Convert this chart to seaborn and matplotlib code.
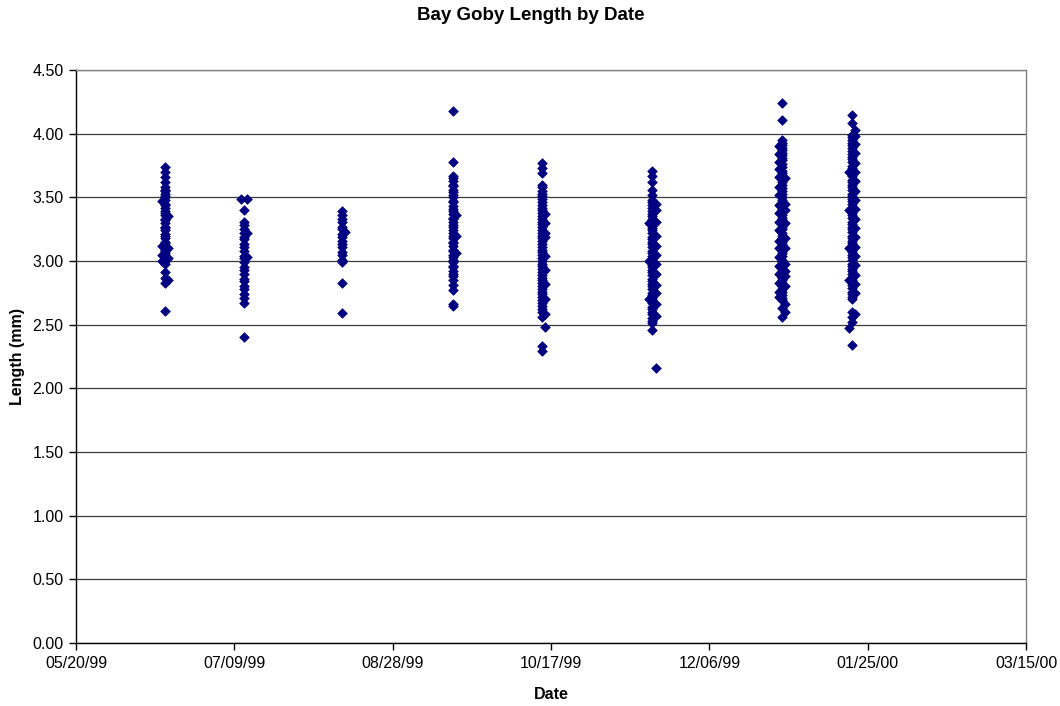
import matplotlib
matplotlib.use("Agg")
import matplotlib.pyplot as plt
import matplotlib.dates as mdates
import matplotlib.ticker as mticker
import numpy as np
import pandas as pd
import seaborn as sns

# ---- Data: sampling dates and fish lengths (mm) ----
d_0616 = [3.47, 3.12, 3.05, 3.00]
d_0617 = [3.74, 3.70, 3.66, 3.62, 3.58, 3.56, 3.55, 3.53, 3.51, 3.50, 3.48, 3.45,
          3.44, 3.42, 3.39, 3.38, 3.36, 3.33, 3.32, 3.30, 3.27, 3.26, 3.24, 3.21,
          3.20, 3.18, 3.15, 3.14, 3.12, 3.09, 3.08, 3.06, 3.03, 3.02, 3.00, 2.98,
          2.91, 2.87, 2.83, 2.61]
d_0618 = [3.35, 3.10, 3.02, 2.85]

d_0711 = [3.49]
d_0712 = [3.40, 3.31, 3.28, 3.25, 3.22, 3.19, 3.17, 3.13, 3.11, 3.08, 3.04, 3.02,
          2.99, 2.95, 2.93, 2.90, 2.86, 2.84, 2.80, 2.78, 2.74, 2.71, 2.67, 2.40]
d_0713 = [3.49, 3.22, 3.03]

d_0812 = [3.39, 3.36, 3.33, 3.31, 3.27, 3.25, 3.21, 3.19, 3.16, 3.13, 3.11, 3.07,
          3.05, 3.01, 2.99, 2.83, 2.59]
d_0813 = [3.23]

d_0916 = [4.18, 3.78, 3.67, 3.65, 3.63, 3.60, 3.59, 3.56, 3.54, 3.52, 3.50, 3.47,
          3.46, 3.43, 3.41, 3.39, 3.37, 3.34, 3.33, 3.31, 3.28, 3.27, 3.24, 3.22,
          3.20, 3.18, 3.15, 3.14, 3.12, 3.09, 3.08, 3.05, 3.03, 3.01, 2.99, 2.96,
          2.95, 2.92, 2.90, 2.88, 2.85, 2.81, 2.77, 2.66, 2.65]
d_0917 = [3.36, 3.20, 3.06]

d_1014 = [3.77, 3.73, 3.69, 3.60, 3.58, 3.55, 3.53, 3.51, 3.49, 3.46, 3.44, 3.42,
          3.40, 3.38, 3.35, 3.33, 3.31, 3.29, 3.27, 3.24, 3.22, 3.20, 3.18, 3.16,
          3.13, 3.11, 3.09, 3.07, 3.05, 3.02, 3.00, 2.98, 2.96, 2.94, 2.91, 2.89,
          2.87, 2.85, 2.83, 2.80, 2.78, 2.76, 2.74, 2.72, 2.69, 2.67, 2.65, 2.62,
          2.60, 2.56, 2.33, 2.29]
d_1015 = [3.37, 3.30, 3.22, 3.19, 3.04, 2.93, 2.82, 2.70, 2.58, 2.48]

d_1117 = [3.30, 3.00, 2.70]
d_1118 = [3.71, 3.67, 3.62, 3.56, 3.52, 3.48, 3.46, 3.44, 3.42, 3.39, 3.37, 3.35,
          3.33, 3.30, 3.28, 3.26, 3.24, 3.22, 3.19, 3.17, 3.15, 3.13, 3.11, 3.08,
          3.06, 3.04, 3.02, 3.00, 2.97, 2.95, 2.93, 2.91, 2.89, 2.86, 2.84, 2.82,
          2.80, 2.78, 2.75, 2.73, 2.71, 2.69, 2.67, 2.64, 2.62, 2.60, 2.58, 2.55,
          2.53, 2.51, 2.46]
d_1119 = [3.45, 3.40, 3.31, 3.20, 3.12, 3.05, 2.98, 2.90, 2.81, 2.75, 2.66, 2.57,
          2.16]

d_1228 = [3.90, 3.84, 3.78, 3.72, 3.66, 3.58, 3.52, 3.44, 3.38, 3.31, 3.24, 3.16,
          3.10, 3.03, 2.96, 2.90, 2.83, 2.76, 2.72]
d_1229 = [4.24, 4.11, 3.95, 3.93, 3.91, 3.89, 3.87, 3.85, 3.83, 3.81, 3.79, 3.76,
          3.74, 3.71, 3.69, 3.67, 3.64, 3.62, 3.60, 3.57, 3.55, 3.53, 3.50, 3.48,
          3.46, 3.43, 3.41, 3.39, 3.36, 3.34, 3.32, 3.29, 3.27, 3.25, 3.22, 3.20,
          3.18, 3.15, 3.13, 3.11, 3.08, 3.06, 3.04, 3.01, 2.99, 2.97, 2.94, 2.92,
          2.90, 2.87, 2.85, 2.83, 2.80, 2.78, 2.76, 2.73, 2.71, 2.69, 2.63, 2.56]
d_1230 = [3.65, 3.45, 3.40, 3.30, 3.18, 3.10, 2.98, 2.92, 2.88, 2.80, 2.66, 2.60]

d_0119 = [3.70, 3.40, 3.10, 2.85, 2.47]
d_0120 = [4.15, 4.08, 3.99, 3.97, 3.95, 3.93, 3.91, 3.89, 3.86, 3.84, 3.82, 3.80,
          3.78, 3.75, 3.73, 3.71, 3.69, 3.67, 3.64, 3.62, 3.60, 3.58, 3.56, 3.53,
          3.51, 3.49, 3.47, 3.45, 3.42, 3.40, 3.38, 3.36, 3.34, 3.31, 3.29, 3.27,
          3.25, 3.23, 3.20, 3.18, 3.16, 3.14, 3.12, 3.09, 3.07, 3.05, 3.03, 3.01,
          2.98, 2.96, 2.94, 2.92, 2.90, 2.87, 2.85, 2.83, 2.81, 2.79, 2.76, 2.74,
          2.72, 2.70, 2.60, 2.56, 2.52, 2.34]
d_0121 = [4.03, 3.98, 3.92, 3.85, 3.77, 3.70, 3.63, 3.55, 3.48, 3.41, 3.33, 3.26,
          3.19, 3.11, 3.04, 2.97, 2.89, 2.82, 2.75, 2.58]

samples = [
    ("1999-06-16", d_0616), ("1999-06-17", d_0617), ("1999-06-18", d_0618),
    ("1999-07-11", d_0711), ("1999-07-12", d_0712), ("1999-07-13", d_0713),
    ("1999-08-12", d_0812), ("1999-08-13", d_0813),
    ("1999-09-16", d_0916), ("1999-09-17", d_0917),
    ("1999-10-14", d_1014), ("1999-10-15", d_1015),
    ("1999-11-17", d_1117), ("1999-11-18", d_1118), ("1999-11-19", d_1119),
    ("1999-12-28", d_1228), ("1999-12-29", d_1229), ("1999-12-30", d_1230),
    ("2000-01-19", d_0119), ("2000-01-20", d_0120), ("2000-01-21", d_0121),
]

rows = []
for d, vals in samples:
    for v in vals:
        rows.append((d, v))
df = pd.DataFrame(rows, columns=["Date", "Length"])
df["Date"] = pd.to_datetime(df["Date"])

# ---- Plot ----
sns.set_style("white")
plt.rcParams["font.family"] = ["Liberation Sans", "DejaVu Sans"]
plt.rcParams["text.color"] = "black"
plt.rcParams["axes.labelcolor"] = "black"
plt.rcParams["xtick.color"] = "black"
plt.rcParams["ytick.color"] = "black"

fig = plt.figure(figsize=(10.6, 7.06), dpi=100)
ax = fig.add_axes([76 / 1060, 1 - 643 / 706, (1026 - 76) / 1060, (643 - 70) / 706])

sns.scatterplot(data=df, x="Date", y="Length", marker="D", s=24,
                color="#000080", edgecolor="#000080", linewidth=0.5, ax=ax,
                zorder=3)

start = pd.Timestamp("1999-05-20")
end = pd.Timestamp("2000-03-15")
ax.set_xlim(start, end)
xticks = pd.date_range(start, end, freq="50D")
ax.set_xticks(xticks)
ax.xaxis.set_major_formatter(mdates.DateFormatter("%m/%d/%y"))

ax.set_ylim(0, 4.5)
ax.yaxis.set_major_locator(mticker.MultipleLocator(0.5))
ax.yaxis.set_major_formatter(mticker.FormatStrFormatter("%.2f"))

ax.grid(axis="y", color="#3a3a3a", linewidth=0.9, zorder=0)
ax.grid(axis="x", visible=False)
ax.set_axisbelow(True)

for side in ["left", "bottom"]:
    ax.spines[side].set_color("black")
    ax.spines[side].set_linewidth(1.0)
for side in ["top", "right"]:
    ax.spines[side].set_visible(True)
    ax.spines[side].set_color("#808080")
    ax.spines[side].set_linewidth(1.0)

ax.tick_params(axis="both", which="major", direction="out", length=5, width=1,
               color="black", labelcolor="black", labelsize=11.5, pad=4,
               left=True, bottom=True)

ax.set_xlabel("Date", fontsize=11.5, fontweight="bold", labelpad=12, color="black")
ax.set_ylabel("Length (mm)", fontsize=11.5, fontweight="bold", labelpad=5, color="black")
fig.suptitle("Bay Goby Length by Date", fontsize=13.5, fontweight="bold",
             x=531 / 1060, y=1 - 15 / 706, va="center", color="black")

fig.savefig("out.png", dpi=100, facecolor="white")
